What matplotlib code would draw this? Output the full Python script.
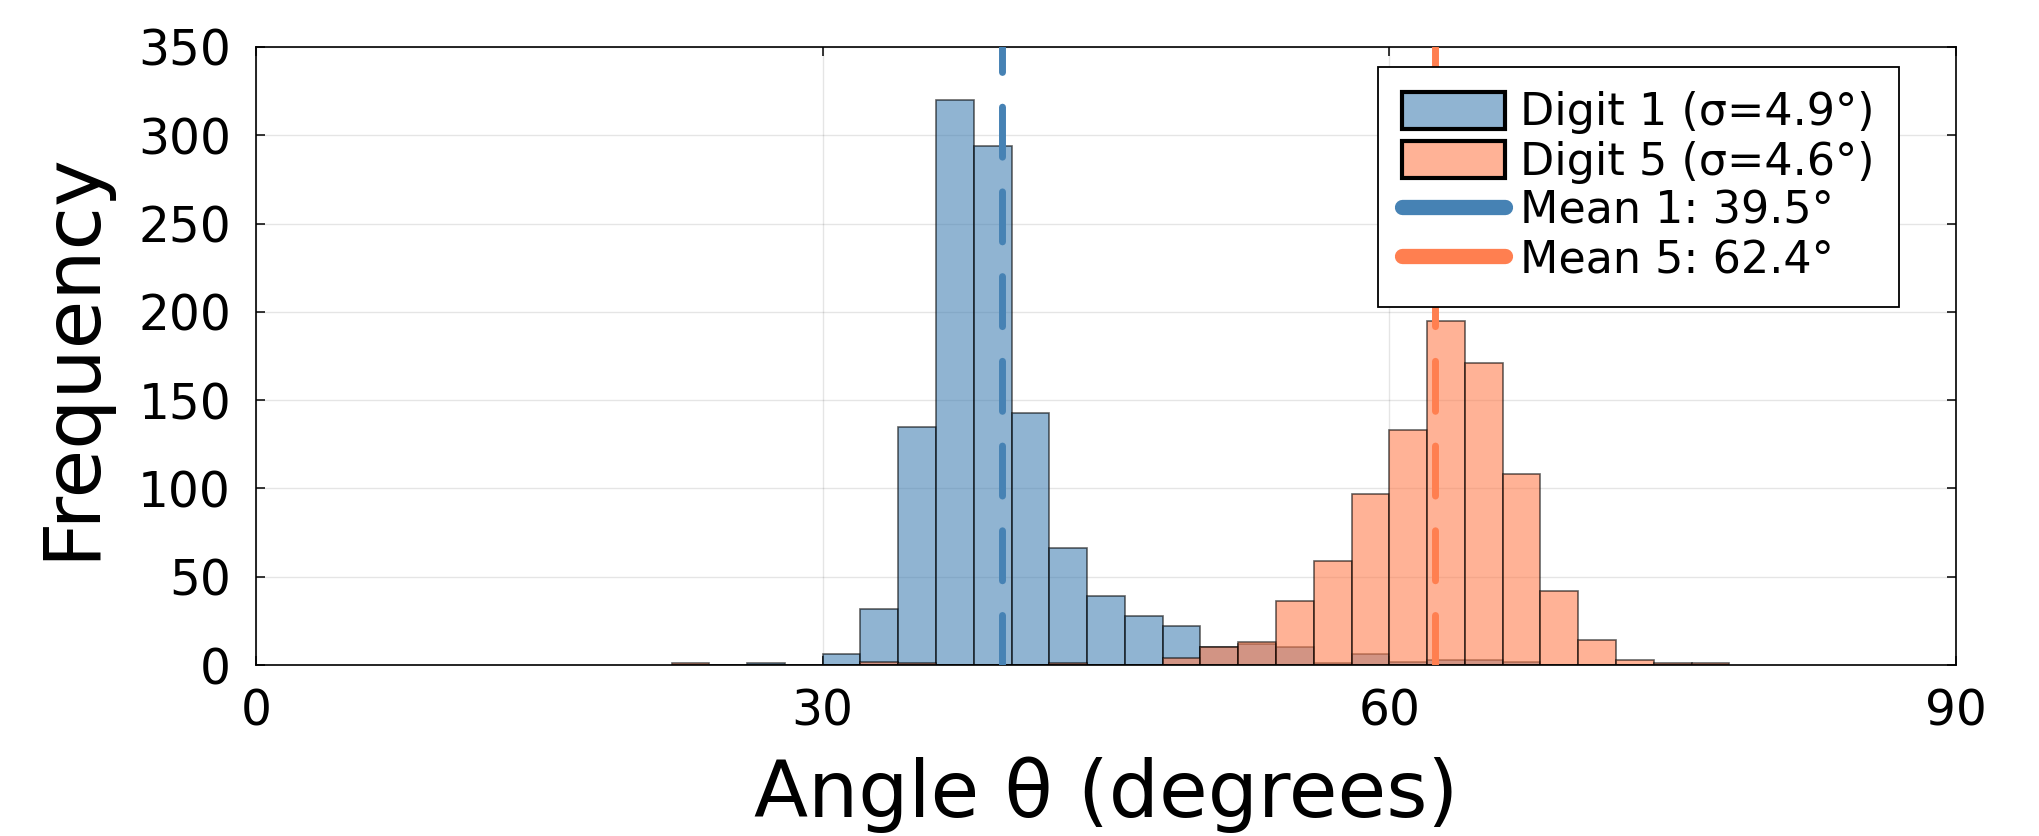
import matplotlib
matplotlib.use('Agg')
import matplotlib.pyplot as plt
from matplotlib.patches import Patch
from matplotlib.lines import Line2D

# bin left edges (degrees), bin width 2
bin_starts = [22, 24, 26, 28, 30, 32, 34, 36, 38, 40, 42, 44, 46, 48,
              50, 52, 54, 56, 58, 60, 62, 64, 66, 68, 70, 72, 74, 76]
counts_1 = [0, 0, 1, 0, 6, 32, 135, 320, 294, 143, 66, 39, 28, 22,
            10, 12, 10, 1, 6, 2, 3, 3, 2, 0, 0, 0, 0, 0]
counts_5 = [1, 0, 0, 0, 0, 2, 1, 0, 0, 0, 1, 0, 0, 4,
            10, 13, 36, 59, 97, 133, 195, 171, 108, 42, 14, 3, 1, 1]
mean_1 = 39.5
mean_5 = 62.4
sigma_1 = 4.9
sigma_5 = 4.6

blue = '#4682B4'
orange = '#FF7F50'

plt.rcParams['font.family'] = 'DejaVu Sans'

fig = plt.figure(figsize=(20.4, 8.36), dpi=100)
ax = fig.add_axes([0.1255, 0.2045, 0.8333, 0.7393])

ax.bar(bin_starts, counts_1, width=2, align='edge', color=blue, alpha=0.6,
       edgecolor='black', linewidth=1.2, zorder=2)
ax.bar(bin_starts, counts_5, width=2, align='edge', color=orange, alpha=0.6,
       edgecolor='black', linewidth=1.2, zorder=2)

for m, c in [(mean_1, blue), (mean_5, orange)]:
    ln = ax.axvline(m, color=c, linewidth=5, zorder=3)
    ln.set_dashes([7.2, 5.0])
    ln.set_dash_capstyle('round')

ax.set_xlim(0, 90)
ax.set_ylim(0, 350)
ax.set_xticks([0, 30, 60, 90])
ax.set_yticks(range(0, 351, 50))
ax.grid(True, color='black', alpha=0.1, linewidth=1.0, zorder=0)
ax.set_axisbelow(True)

ax.tick_params(direction='in', length=6.5, width=1.1, labelsize=35,
               top=True, right=True)
ax.tick_params(axis='y', pad=18)
ax.tick_params(axis='x', pad=16)
for s in ax.spines.values():
    s.set_linewidth(1.2)

ax.set_xlabel('Angle θ (degrees)', fontsize=57, va='baseline')
ax.xaxis.set_label_coords(0.5, (665 - 817) / 618)
ax.set_ylabel('Frequency', fontsize=57, va='baseline')
ax.yaxis.set_label_coords((93 - 256) / 1700, 0.5)

handles = [
    Patch(facecolor='#90B4D2', edgecolor='black', linewidth=3),
    Patch(facecolor='#FFB296', edgecolor='black', linewidth=3),
    Line2D([], [], color=blue, linewidth=11, solid_capstyle='round'),
    Line2D([], [], color=orange, linewidth=11, solid_capstyle='round'),
]
labels = ['Digit 1 (σ=%.1f°)' % sigma_1, 'Digit 5 (σ=%.1f°)' % sigma_5,
          'Mean 1: %.1f°' % mean_1, 'Mean 5: %.1f°' % mean_5]
leg = ax.legend(handles, labels, loc='upper right',
                bbox_to_anchor=(0.9665, 0.9676), borderaxespad=0,
                fontsize=32, frameon=True, fancybox=False, framealpha=1,
                edgecolor='black', handlelength=2.3, handleheight=0.9,
                handletextpad=0.35, labelspacing=0.14, borderpad=0.55)
leg.get_frame().set_linewidth(1.3)

fig.savefig('out.png', dpi=100)
